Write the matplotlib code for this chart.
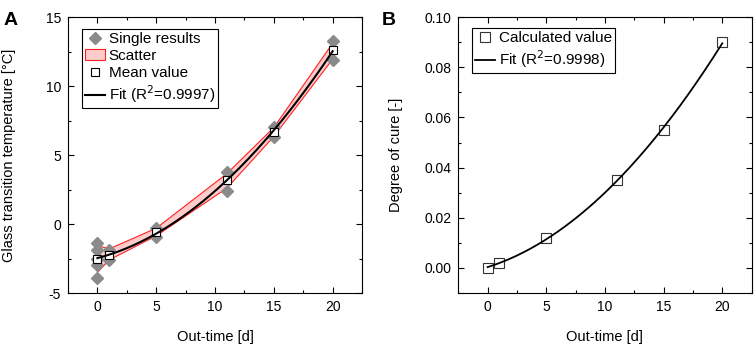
"""Out-time: glass transition temperature (A) and degree of cure (B)."""

import matplotlib
matplotlib.use("Agg")
import matplotlib.pyplot as plt
from matplotlib.lines import Line2D
from matplotlib.patches import Patch
from matplotlib.ticker import MultipleLocator
import numpy as np

plt.rcParams.update({
    'font.family': ['Liberation Sans', 'DejaVu Sans'],
    'font.size': 10,
    'axes.unicode_minus': False,
    'xtick.direction': 'in',
    'ytick.direction': 'in',
    'xtick.top': True,
    'ytick.right': True,
    'xtick.minor.visible': True,
    'ytick.minor.visible': True,
    'xtick.major.size': 4,
    'ytick.major.size': 4,
    'xtick.minor.size': 2.5,
    'ytick.minor.size': 2.5,
    'axes.linewidth': 0.8,
})

# --- data ---
out_time = [0, 1, 5, 11, 15, 20]

single_t = [0, 0, 0, 0, 0, 1, 1, 5, 5, 11, 11, 15, 15, 20, 20]
single_tg = [-1.35, -1.9, -2.5, -3.0, -3.9, -1.85, -2.6, -0.25, -0.9,
             3.75, 2.4, 7.05, 6.3, 13.25, 11.9]
mean_tg = [-2.5, -2.25, -0.56, 3.2, 6.65, 12.6]
scatter_hi = [-1.55, -1.8, -0.3, 3.65, 7.0, 13.1]
scatter_lo = [-3.5, -2.6, -0.85, 2.6, 6.35, 11.95]

degree_of_cure = [0.0, 0.002, 0.012, 0.035, 0.055, 0.090]

GRAY = '#8a8a8a'
PINK = '#ffcccc'
RED = '#ff2020'

fig = plt.figure(figsize=(7.54, 3.44), dpi=100)
axA = fig.add_axes([0.0902, 0.148, 0.390, 0.8023])
axB = fig.add_axes([0.6078, 0.148, 0.389, 0.8023])

tt = np.linspace(0, 20, 200)

# --- panel A ---
axA.fill_between(out_time, scatter_lo, scatter_hi, facecolor=PINK, edgecolor='none', zorder=1)
axA.plot(out_time, scatter_hi, color=RED, lw=0.8, zorder=2)
axA.plot(out_time, scatter_lo, color=RED, lw=0.8, zorder=2)
axA.plot(single_t, single_tg, 'D', color=GRAY, ms=6.5, mec=GRAY, zorder=3)
axA.plot(out_time, mean_tg, 's', mfc='white', mec='black', mew=0.8, ms=5.5, zorder=4)
fitA = np.polyfit(out_time, mean_tg, 2)
axA.plot(tt, np.polyval(fitA, tt), color='black', lw=1.5, zorder=5)

axA.set_xlim(-2.5, 22.5)
axA.set_ylim(-5, 15)
axA.xaxis.set_major_locator(MultipleLocator(5))
axA.xaxis.set_minor_locator(MultipleLocator(2.5))
axA.yaxis.set_major_locator(MultipleLocator(5))
axA.yaxis.set_minor_locator(MultipleLocator(2.5))
axA.set_xlabel('Out-time [d]', fontsize=10.5)
axA.set_ylabel('Glass transition temperature [°C]', fontsize=10.5)
axA.xaxis.set_label_coords(0.5, -0.135)
axA.yaxis.set_label_coords(-0.177, 0.5)

handlesA = [
    Line2D([], [], marker='D', ls='none', color=GRAY, ms=6.5),
    Patch(facecolor=PINK, edgecolor=RED, lw=0.8),
    Line2D([], [], marker='s', ls='none', mfc='white', mec='black', mew=0.8, ms=5.5),
    Line2D([], [], color='black', lw=1.5),
]
labelsA = ['Single results', 'Scatter', 'Mean value', 'Fit (R$^2$=0.9997)']
legA = axA.legend(handlesA, labelsA, loc='upper left', bbox_to_anchor=(0.047, 0.957),
                  borderaxespad=0, fontsize=11, fancybox=False, edgecolor='black',
                  framealpha=1, handlelength=1.3, handletextpad=0.25,
                  labelspacing=0.2, borderpad=0.2)
legA.get_frame().set_linewidth(0.8)

# --- panel B ---
axB.plot(out_time, degree_of_cure, 's', mfc='white', mec='#333333', mew=0.8, ms=6.5, zorder=3)
fitB = np.polyfit(out_time, degree_of_cure, 2)
axB.plot(tt, np.polyval(fitB, tt), color='black', lw=1.3, zorder=4)

axB.set_xlim(-2.5, 22.5)
axB.set_ylim(-0.01, 0.10)
axB.xaxis.set_major_locator(MultipleLocator(5))
axB.xaxis.set_minor_locator(MultipleLocator(2.5))
axB.yaxis.set_major_locator(MultipleLocator(0.02))
axB.yaxis.set_minor_locator(MultipleLocator(0.01))
axB.yaxis.set_major_formatter(plt.FormatStrFormatter('%.2f'))
axB.set_xlabel('Out-time [d]', fontsize=10.5)
axB.set_ylabel('Degree of cure [-]', fontsize=10.5)
axB.xaxis.set_label_coords(0.5, -0.135)
axB.yaxis.set_label_coords(-0.188, 0.5)

handlesB = [
    Line2D([], [], marker='s', ls='none', mfc='white', mec='#333333', mew=0.8, ms=6.5),
    Line2D([], [], color='black', lw=1.3),
]
labelsB = ['Calculated value', 'Fit (R$^2$=0.9998)']
legB = axB.legend(handlesB, labelsB, loc='upper left', bbox_to_anchor=(0.046, 0.96),
                  borderaxespad=0, fontsize=11, fancybox=False, edgecolor='black',
                  framealpha=1, handlelength=1.3, handletextpad=0.25,
                  labelspacing=0.2, borderpad=0.2)
legB.get_frame().set_linewidth(0.8)

for ax in (axA, axB):
    ax.tick_params(which='both', labelsize=10, pad=5, width=0.8)

fig.text(0.004, 0.965, 'A', fontsize=14, fontweight='bold', va='top', ha='left')
fig.text(0.506, 0.965, 'B', fontsize=14, fontweight='bold', va='top', ha='left')

fig.savefig('out.png', dpi=100)
